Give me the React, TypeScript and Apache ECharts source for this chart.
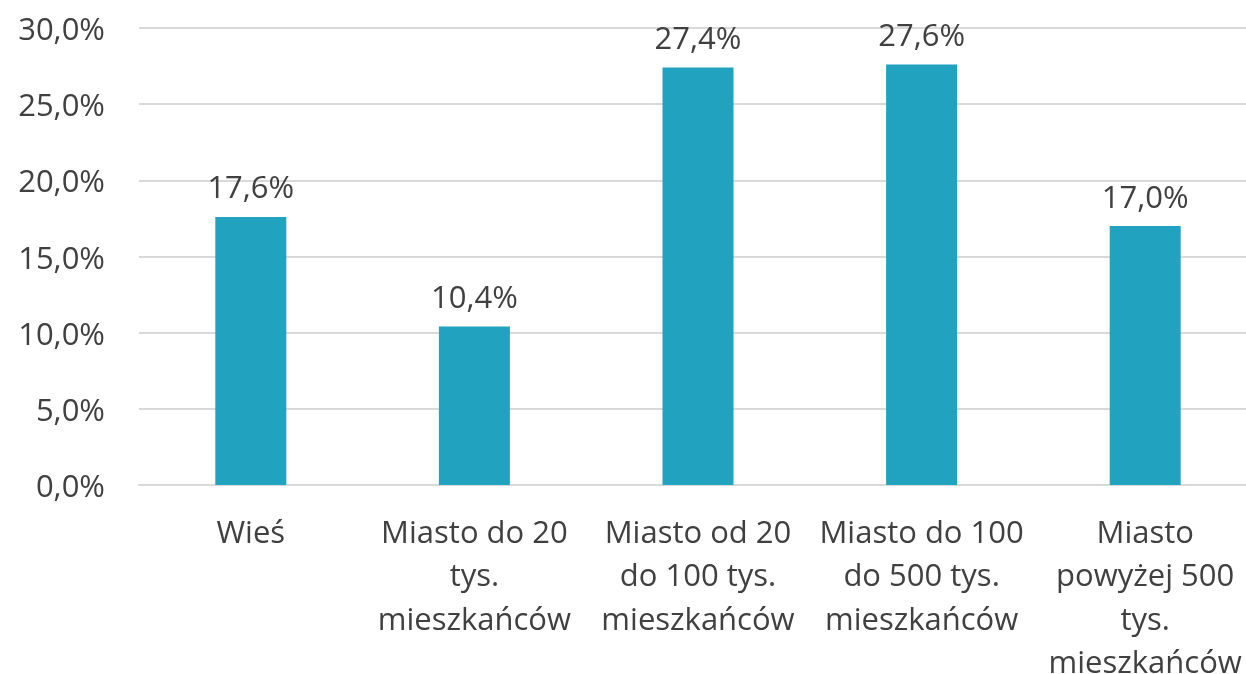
import React, { useEffect, useRef } from "react";
import * as echarts from "echarts";

const categories = [
  "Wieś",
  "Miasto do 20 tys. mieszkańców",
  "Miasto od 20 do 100 tys. mieszkańców",
  "Miasto do 100 do 500 tys. mieszkańców",
  "Miasto powyżej 500 tys. mieszkańców",
];
const tickLabels = [
  "Wieś",
  "Miasto do 20\ntys.\nmieszkańców",
  "Miasto od 20\ndo 100 tys.\nmieszkańców",
  "Miasto do 100\ndo 500 tys.\nmieszkańców",
  "Miasto\npowyżej 500\ntys.\nmieszkańców",
];
const values = [17.6, 10.4, 27.4, 27.6, 17.0];

const fmt = (v: number) => v.toFixed(1).replace(".", ",") + "%";

export default function App() {
  const ref = useRef<HTMLDivElement>(null);
  useEffect(() => {
    document.body.style.margin = "0";
    document.body.style.overflow = "hidden";
    const chart = echarts.init(ref.current!, null, { renderer: "svg" });
    const font = "'Open Sans', sans-serif";
    chart.setOption({
      animation: false,
      grid: {
        left: 139,
        right: -11,
        top: 28,
        bottom: 189,
        containLabel: false,
        outerBoundsMode: "none",
      },
      xAxis: {
        type: "category",
        data: categories,
        axisLine: { lineStyle: { color: "#D9D9D9", width: 2 } },
        axisTick: { show: false },
        axisLabel: {
          formatter: (_v: string, i: number) => tickLabels[i],
          fontFamily: font,
          fontSize: 31,
          color: "#404040",
          lineHeight: 43.5,
          margin: 24,
          interval: 0,
          hideOverlap: false,
        },
      },
      yAxis: {
        type: "value",
        min: 0,
        max: 30,
        interval: 5,
        axisLine: { show: false },
        axisTick: { show: false },
        splitLine: { lineStyle: { color: "#D9D9D9", width: 2 } },
        axisLabel: {
          formatter: (v: number) => fmt(v),
          fontFamily: font,
          fontSize: 31,
          color: "#404040",
          margin: 34,
        },
      },
      series: [
        {
          type: "bar",
          data: values,
          barWidth: 71,
          itemStyle: { color: "#21A2BE" },
          label: {
            show: true,
            position: "top",
            distance: 15,
            formatter: (p: any) => fmt(p.value),
            fontFamily: font,
            fontSize: 31,
            color: "#404040",
          },
        },
      ],
    });
    return () => chart.dispose();
  }, []);
  return <div ref={ref} style={{ position: "fixed", left: 0, top: 0, width: 1246, height: 674 }} />;
}
